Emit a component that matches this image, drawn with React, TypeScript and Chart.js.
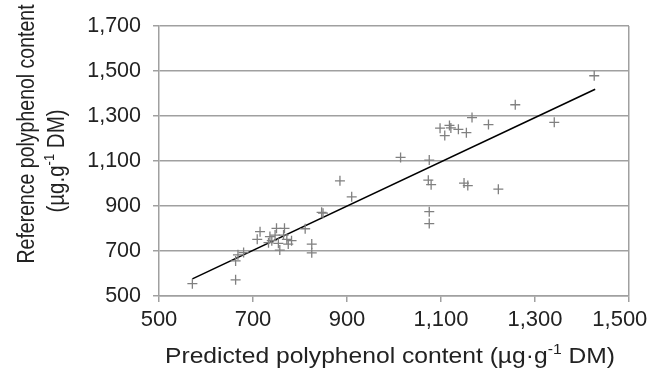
import React, { useEffect, useRef } from "react";
import { Chart, registerables } from "chart.js";

Chart.register(...registerables);

// Predicted (x) and reference (y) polyphenol content, µg·g-1 DM
const predicted = [
  571, 663, 663, 668, 680, 709, 715, 733, 736, 740, 747, 750, 754, 757, 765,
  767, 772, 775, 782, 811, 825, 825, 846, 849, 885, 910, 1014, 1075, 1073,
  1079, 1075, 1075, 1149, 1157, 1098, 1108, 1118, 1121, 1137, 1154, 1166,
  1201, 1222, 1258, 1341, 1426,
];
const reference = [
  555, 572, 656, 683, 693, 752, 786, 737, 764, 746, 771, 801, 734, 704, 771,
  801, 752, 731, 746, 799, 731, 692, 872, 868, 1012, 941, 1116, 1104, 1015,
  995, 875, 822, 1002, 991, 1246, 1213, 1258, 1247, 1241, 1226, 1293, 1262,
  975, 1350, 1272, 1479,
];
// Regression line end points
const trendX = [571, 1428];
const trendY = [576, 1419];

const xTickValues = [500, 700, 900, 1100, 1300, 1500];
const yTickValues = [500, 700, 900, 1100, 1300, 1500, 1700];

const xTitle = [
  { t: "Predicted polyphenol content (µg·g" },
  { t: "-1", sup: true },
  { t: " DM)" },
];
const yTitle1 = [{ t: "Reference polyphenol content" }];
const yTitle2 = [{ t: "(µg.g" }, { t: "-1", sup: true }, { t: " DM)" }];

const FONT = '"Liberation Sans", Arial, Helvetica, sans-serif';
const TEXT = "#222222";
const GRID = "#a0a0a0";

function fmt(v: number) {
  return v.toLocaleString("en-US");
}

function drawRich(
  ctx: CanvasRenderingContext2D,
  segs: { t: string; sup?: boolean }[],
  cx: number,
  baseline: number,
  size: number
) {
  const supSize = Math.round(size * 0.62);
  const parts = segs.map((s) => {
    ctx.font = `${s.sup ? supSize : size}px ${FONT}`;
    return { ...s, w: ctx.measureText(s.t).width };
  });
  const total = parts.reduce((a, p) => a + p.w, 0);
  let x = cx - total / 2;
  ctx.textAlign = "left";
  ctx.textBaseline = "alphabetic";
  for (const p of parts) {
    ctx.font = `${p.sup ? supSize : size}px ${FONT}`;
    ctx.fillText(p.t, x, baseline + (p.sup ? -size * 0.4 : 0));
    x += p.w;
  }
}

const titlePlugin = {
  id: "axisTitles",
  afterDraw(chart: any) {
    const ctx: CanvasRenderingContext2D = chart.ctx;
    ctx.save();
    ctx.fillStyle = TEXT;
    // x-axis title
    ctx.save();
    ctx.translate(390, 363);
    ctx.scale(1.12, 1);
    drawRich(ctx, xTitle, 0, 0, 22);
    ctx.restore();
    // y-axis title, line 1
    ctx.save();
    ctx.translate(34, 134);
    ctx.scale(1.18, 1);
    ctx.rotate(-Math.PI / 2);
    drawRich(ctx, yTitle1, 0, 0, 19.5);
    ctx.restore();
    // y-axis title, line 2
    ctx.save();
    ctx.translate(64, 161);
    ctx.scale(1.18, 1);
    ctx.rotate(-Math.PI / 2);
    drawRich(ctx, yTitle2, 0, 0, 20.5);
    ctx.restore();
    ctx.restore();
  },
};

export default function App() {
  const ref = useRef<HTMLCanvasElement | null>(null);

  useEffect(() => {
    if (!ref.current) return;
    const chart = new Chart(ref.current, {
      type: "scatter",
      data: {
        datasets: [
          {
            label: "samples",
            data: predicted.map((x, i) => ({ x, y: reference[i] })),
            pointStyle: "cross",
            pointRadius: 5,
            pointHoverRadius: 5,
            borderColor: "#808080",
            backgroundColor: "#808080",
            borderWidth: 1.3,
          },
          {
            type: "line",
            label: "fit",
            data: trendX.map((x, i) => ({ x, y: trendY[i] })),
            borderColor: "#000000",
            borderWidth: 1.6,
            pointRadius: 0,
            fill: false,
            showLine: true,
          } as any,
        ],
      },
      options: {
        animation: false,
        responsive: false,
        maintainAspectRatio: false,
        layout: { padding: { left: 0, top: 26, right: 22, bottom: 0 } },
        plugins: { legend: { display: false }, tooltip: { enabled: false } },
        scales: {
          x: {
            type: "linear",
            min: 500,
            max: 1500,
            afterBuildTicks: (s: any) => {
              s.ticks = xTickValues.map((v) => ({ value: v }));
            },
            ticks: {
              font: { family: FONT, size: 22 },
              color: TEXT,
              padding: 5,
              maxRotation: 0,
              autoSkip: false,
              callback: (v: any) => (v === 1500 ? fmt(v) + "   " : fmt(v)),
            },
            grid: {
              color: (c: any) =>
                c.tick && c.tick.value === 1500 ? GRID : "rgba(0,0,0,0)",
              tickColor: GRID,
              tickLength: 6,
              lineWidth: 1.5,
            },
            border: { display: true, color: GRID, width: 1.5 },
            afterFit: (s: any) => {
              s.height = 73;
              s.paddingLeft = 0;
              s.paddingRight = 0;
            },
          },
          y: {
            type: "linear",
            min: 500,
            max: 1700,
            afterBuildTicks: (s: any) => {
              s.ticks = yTickValues.map((v) => ({ value: v }));
            },
            ticks: {
              font: { family: FONT, size: 21.5 },
              color: TEXT,
              padding: 12,
              autoSkip: false,
              callback: (v: any) => fmt(v),
            },
            grid: {
              color: GRID,
              tickColor: GRID,
              tickLength: 6,
              lineWidth: 1.5,
            },
            border: { display: true, color: GRID, width: 1.5 },
            afterFit: (s: any) => {
              s.width = 159;
              s.paddingTop = 0;
              s.paddingBottom = 0;
            },
          },
        },
      } as any,
      plugins: [titlePlugin],
    });
    return () => chart.destroy();
  }, []);

  return (
    <div
      style={{
        position: "fixed",
        left: 0,
        top: 0,
        width: 651,
        height: 369,
        background: "#ffffff",
      }}
    >
      <canvas ref={ref} width={651} height={369} />
    </div>
  );
}
